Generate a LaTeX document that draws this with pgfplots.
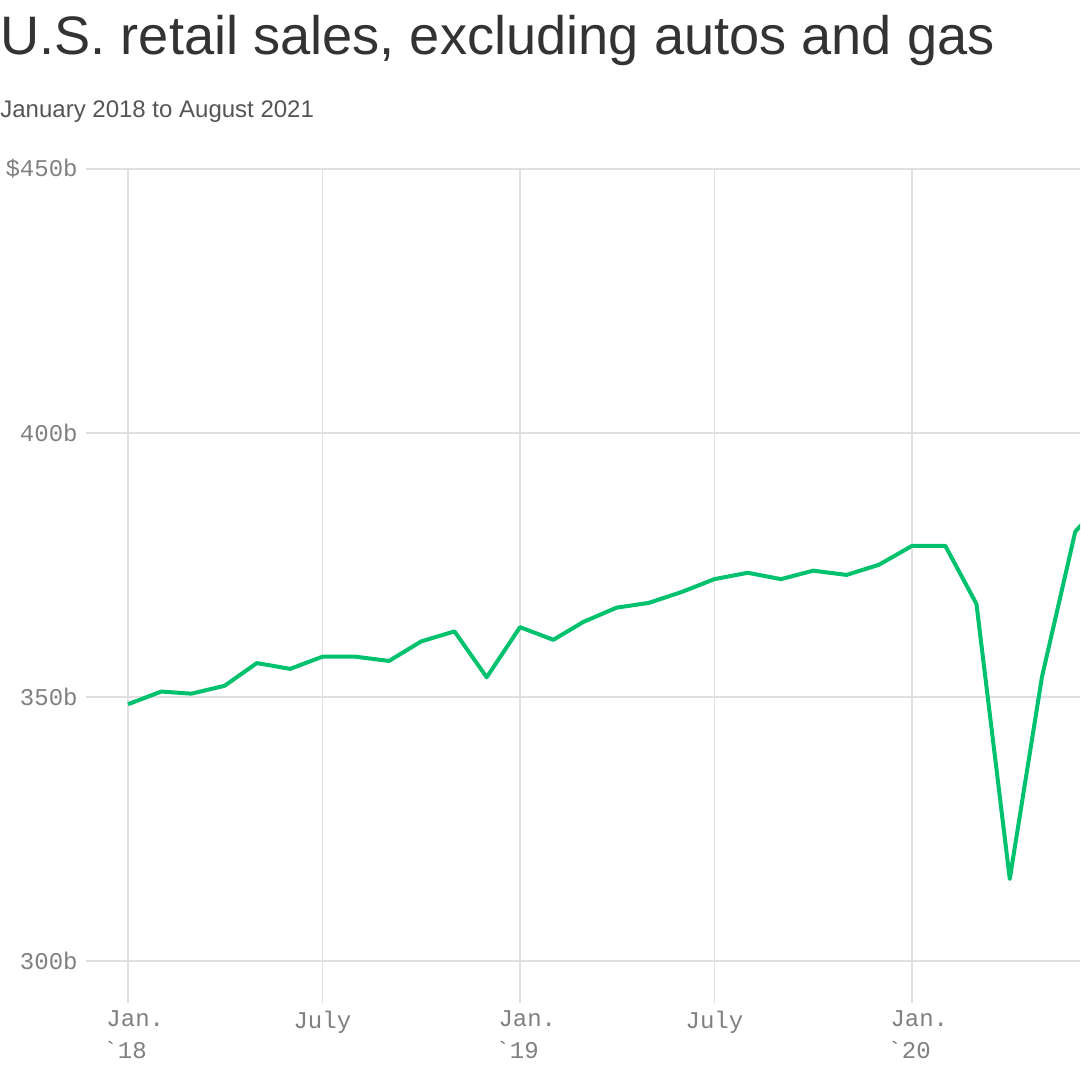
\documentclass[border=0pt]{standalone}
\usepackage{fontspec}
\setmainfont{Liberation Sans}
\setmonofont{Liberation Mono}
\usepackage{pgfplots}
\pgfplotsset{compat=1.18}
\definecolor{linegreen}{RGB}{0,193,110}
\definecolor{gridgray}{RGB}{224,224,224}
\definecolor{ticktext}{RGB}{128,128,128}
\definecolor{titletext}{RGB}{51,51,51}
\definecolor{subtext}{RGB}{85,85,85}

\pgfplotstableread{
day value
0 348.6
31 351.0
59 350.6
90 352.1
120 356.4
151 355.3
181 357.6
212 357.6
243 356.8
273 360.5
304 362.4
334 353.7
365 363.2
396 360.8
424 364.2
455 366.9
485 367.8
516 369.9
546 372.3
577 373.5
608 372.3
638 373.9
669 373.1
699 375.0
730 378.6
761 378.6
790 367.6
821 315.5
851 353.8
882 381.3
912 388.0
}\salesdata

\newcommand{\janlab}[1]{\hspace*{7.3pt}Jan.\\\hspace*{5.8pt}`#1}

\begin{document}
\begin{tikzpicture}
\useasboundingbox (0,0) rectangle (540pt,540pt);
\node[anchor=base west, inner sep=0pt, text=titletext, font=\fontsize{27.1}{32}\selectfont] at (0pt,512.5pt) {U.S. retail sales, excluding autos and gas};
\node[anchor=base west, inner sep=0pt, text=subtext, font=\fontsize{12}{14}\selectfont] at (0pt,481pt) {January 2018 to August 2021};
\begin{axis}[
  at={(43pt,38.5pt)}, anchor=south west,
  width=497pt, height=417pt, scale only axis,
  xmin=-39.1, xmax=886.4, ymin=292, ymax=450,
  axis line style={draw=none},
  major tick length=0pt,
  xtick={0,181,365,546,730},
  xticklabels={{\janlab{18}},July,{\janlab{19}},July,{\janlab{20}}},
  ytick={300,350,400,450},
  yticklabels={300b,350b,400b,\$450b},
  grid=major,
  grid style={gridgray, line width=0.75pt},
  xticklabel style={font=\ttfamily\fontsize{12}{16}\selectfont, text=ticktext, align=left, anchor=north, inner sep=0pt, yshift=-3.75pt},
  yticklabel style={font=\ttfamily\fontsize{12}{16}\selectfont, text=ticktext, anchor=east, inner sep=0pt, xshift=-4pt},
  clip=true,
]
\addplot[linegreen, line width=2pt, line join=round] table[x=day, y=value] {\salesdata};
\end{axis}
\end{tikzpicture}
\end{document}
